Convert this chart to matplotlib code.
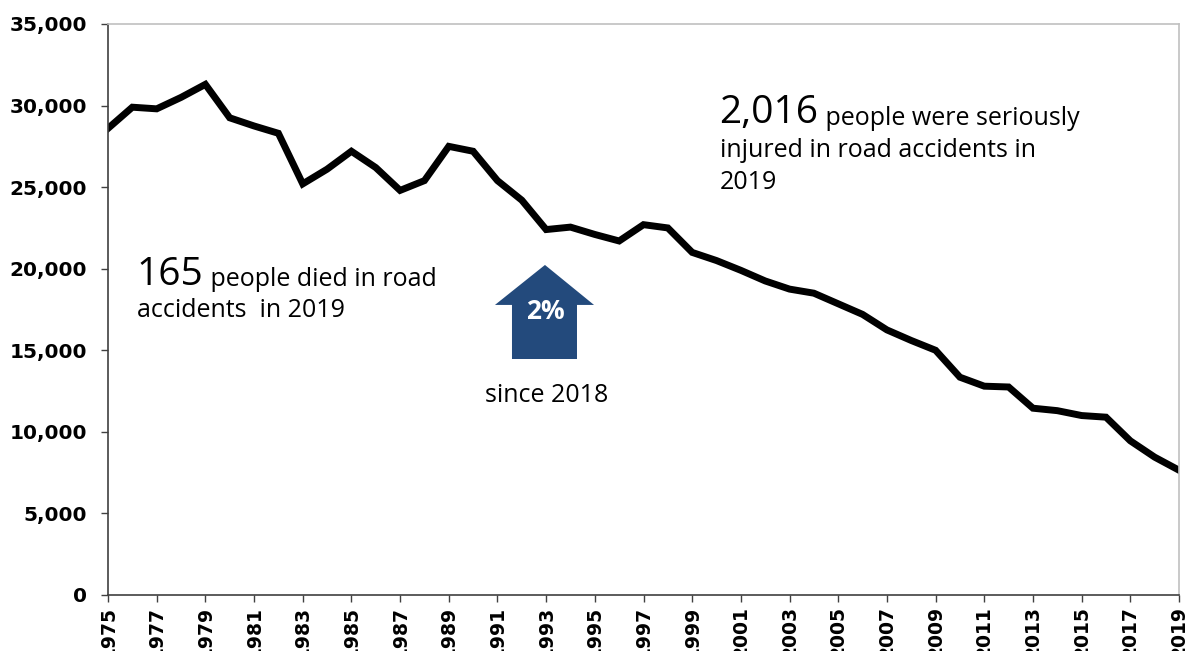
import matplotlib.pyplot as plt
from matplotlib.patches import Polygon
import numpy as np

# seriously injured in road accidents per year
years = np.arange(1975, 2020)
injured = [28600, 29900, 29800, 30500, 31300, 29250, 28750, 28300, 25200, 26100,
           27200, 26200, 24800, 25400, 27500, 27200, 25400, 24200, 22400, 22550,
           22100, 21700, 22700, 22500, 21000, 20500, 19900, 19250, 18750, 18500,
           17850, 17200, 16250, 15600, 15000, 13350, 12800, 12750, 11450, 11300,
           11000, 10900, 9450, 8450, 7650]

tick_years = years[::2]
y_ticks = [0, 5000, 10000, 15000, 20000, 25000, 30000, 35000]

text_font = ['Open Sans', 'DejaVu Sans']
big = 28
small = 18

fig = plt.figure(figsize=(11.86, 6.51), dpi=100)
ax = fig.add_axes([108 / 1186, 56 / 651, 1071 / 1186, 571 / 651])

ax.plot(years, injured, color='black', lw=5, solid_joinstyle='miter')

ax.set_xlim(1975, 2019)
ax.set_ylim(0, 35000)
ax.set_xticks(tick_years)
ax.set_xticklabels([str(y) for y in tick_years], rotation=90,
                   fontsize=13.5, fontweight='bold', family='DejaVu Sans')
ax.set_yticks(y_ticks)
ax.set_yticklabels([f'{v:,}' for v in y_ticks], fontsize=14.5,
                   fontweight='bold', family='DejaVu Sans')
ax.tick_params(axis='y', direction='out', length=5, width=1, color='#404040', pad=10)
ax.tick_params(axis='x', direction='out', length=5, width=1, color='#404040', pad=3)

ax.spines['left'].set_color('#404040')
ax.spines['bottom'].set_color('#404040')
ax.spines['top'].set_color('#c0c0c0')
ax.spines['right'].set_color('#c0c0c0')
for s in ax.spines.values():
    s.set_linewidth(1.2)

# annotations
t1 = ax.text(0.027, 0.543, '165', transform=ax.transAxes, fontsize=big,
             family=text_font, va='baseline')
ax.annotate(' people died in road', xy=(1, 0.04), xycoords=t1, va='bottom',
            fontsize=small, family=text_font)
ax.text(0.027, 0.487, 'accidents  in 2019', transform=ax.transAxes,
        fontsize=small, family=text_font, va='baseline')

t2 = ax.text(0.571, 0.826, '2,016', transform=ax.transAxes, fontsize=big,
             family=text_font, va='baseline')
ax.annotate(' people were seriously', xy=(1, 0.04), xycoords=t2, va='bottom',
            fontsize=small, family=text_font)
ax.text(0.571, 0.767, 'injured in road accidents in', transform=ax.transAxes,
        fontsize=small, family=text_font, va='baseline')
ax.text(0.571, 0.711, '2019', transform=ax.transAxes,
        fontsize=small, family=text_font, va='baseline')

# up arrow
arrow = Polygon([(0.408, 0.578), (0.4538, 0.508), (0.4379, 0.508), (0.4379, 0.4133),
                 (0.3772, 0.4133), (0.3772, 0.508), (0.3613, 0.508)],
                closed=True, transform=ax.transAxes, facecolor='#234A7C',
                edgecolor='none')
ax.add_patch(arrow)
ax.text(0.408, 0.497, '2%', transform=ax.transAxes, fontsize=19, fontweight='bold',
        color='white', ha='center', va='center', family=text_font)
ax.text(0.410, 0.35, 'since 2018', transform=ax.transAxes, fontsize=small,
        ha='center', va='center', family=text_font)

fig.savefig('out.png', dpi=100)
